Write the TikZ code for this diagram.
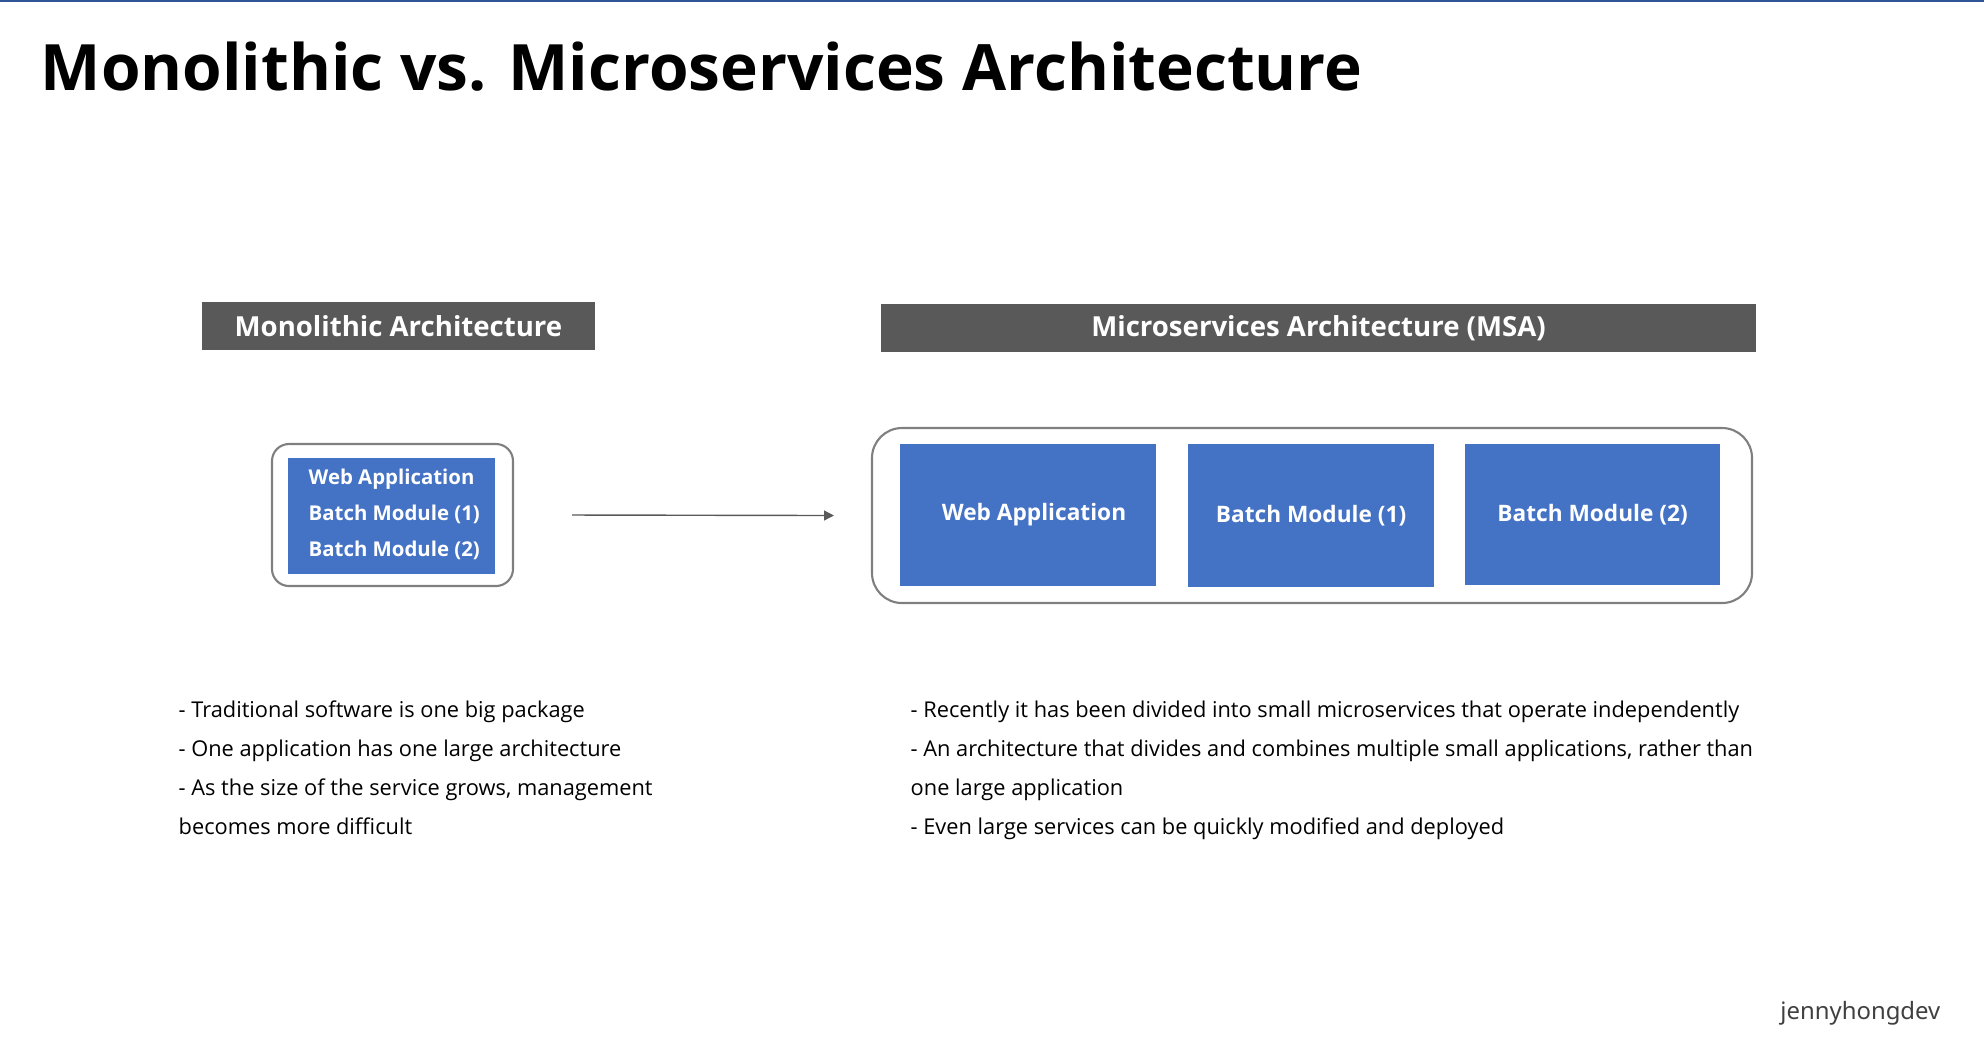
\documentclass[tikz,border=0pt]{standalone}
\usepackage{fontspec}
\setmainfont{Open Sans}
\newfontfamily\signfont{Noto Sans}
\usepackage{xcolor}
\usetikzlibrary{arrows.meta,positioning}

\definecolor{hdrgray}{HTML}{595959}
\definecolor{modblue}{HTML}{4472C4}
\definecolor{edgegray}{HTML}{7F7F7F}
\definecolor{topblue}{HTML}{2F5597}

\begin{document}
\begin{tikzpicture}[
  hdr/.style={fill=hdrgray,text=white,inner sep=0pt,minimum height=0.48cm,font=\bfseries\fontsize{7.85}{9}\selectfont},
  frame/.style={draw=edgegray,line width=0.6pt},
  module/.style={fill=modblue,text=white,inner sep=0pt,font=\bfseries\fontsize{6.45}{8}\selectfont},
  note/.style={anchor=base west,inner sep=0pt,font=\fontsize{6.2}{7}\selectfont}]
 \useasboundingbox (0,0) rectangle (19.84,-10.38);
 \fill[topblue] (0,0) rectangle (19.84,-0.02);
 \node[anchor=base west,inner sep=0pt,font=\bfseries\fontsize{18.2}{21}\selectfont] (title) at (0.40,-0.90) {Monolithic vs. Microservices Architecture};
 % headers
 \node[hdr,minimum width=3.93cm] (monohdr) at (3.985,-3.26) {Monolithic Architecture};
 \node[hdr,minimum width=8.75cm] (msahdr) at (13.185,-3.28) {Microservices\ Architecture\ (MSA)};
 % monolithic
 \node[frame,rounded corners=0.17cm,minimum width=2.41cm,minimum height=1.42cm] (monoframe) at (3.925,-5.15) {};
 \node[module,minimum width=2.07cm,minimum height=1.16cm] (monoapp) at (3.915,-5.16) {};
 \node[module,anchor=west,align=left,font=\bfseries\fontsize{5.8}{10.2}\selectfont,fill=none] (monotext) at (3.08,-5.14) {Web Application\\Batch Module (1)\\Batch Module (2)};
 % microservices
 \node[frame,rounded corners=0.3cm,minimum width=8.80cm,minimum height=1.75cm] (msaframe) at (13.12,-5.155) {};
 \node[module,minimum width=2.56cm,minimum height=1.42cm] (webapp) at (10.28,-5.15) {\raisebox{0.6mm}{\hspace{1.2mm}Web Application}};
 \node[module,minimum width=2.46cm,minimum height=1.43cm] (batchone) at (13.11,-5.155) {Batch Module (1)};
 \node[module,minimum width=2.55cm,minimum height=1.41cm] (batchtwo) at (15.925,-5.145) {Batch Module (2)};
 \draw[hdrgray,line width=0.4pt,-{Triangle[length=2.8pt,width=2.8pt]}] ([xshift=0.58cm]monoframe.east) -- ([xshift=-0.37cm]msaframe.west);
 % notes
 \foreach \t [count=\i] in {- Traditional software is one big package,- One application\ has one large architecture,{- As the size of the service grows, management},becomes more difficult}
   \node[note] (mononote\i) at (1.78,{-7.17-0.392*(\i-1)}) {\t};
 \foreach \t [count=\i] in {- Recently it has been divided\ into small\ microservices that operate independently,{- An architecture that divides and combines multiple small applications, rather than},one large application,- Even large services can be quickly modified and deployed}
   \node[note] (msanote\i) at (9.10,{-7.17-0.392*(\i-1)}) {\t};
 \node[anchor=base east,inner sep=0pt,text=black!75,font=\signfont\fontsize{6.8}{8}\selectfont] (sign) at (19.41,-10.19) {jennyhongdev};
\end{tikzpicture}
\end{document}
